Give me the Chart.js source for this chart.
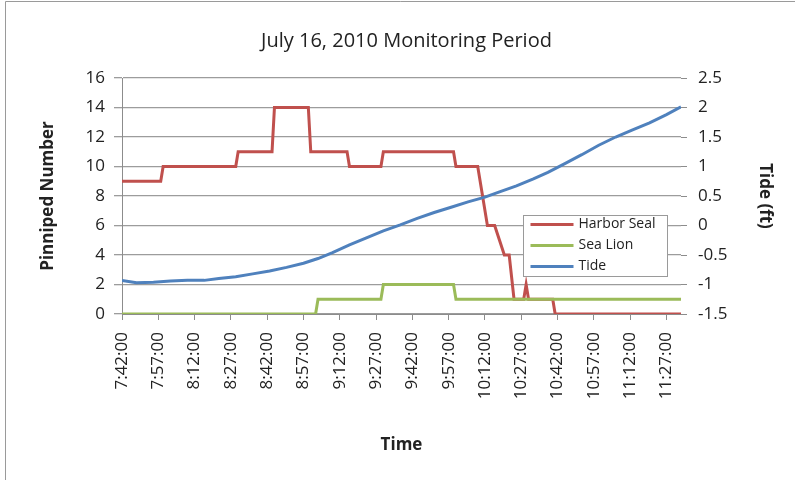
<!DOCTYPE html>
<html>
<head>
<meta charset="utf-8">
<script src="https://cdn.jsdelivr.net/npm/chart.js@4/dist/chart.umd.min.js"></script>
<style>
  html, body { margin: 0; padding: 0; background: #fff; }
</style>
</head>
<body>
<canvas id="chart" width="795" height="480"></canvas>
<script>
// minutes after 7:42:00, one tick label every 15 minutes
const tickMinutes = [0, 15, 30, 45, 60, 75, 90, 105, 120, 135, 150, 165, 180, 195, 210, 225];
const timeLabels = ["7:42:00", "7:57:00", "8:12:00", "8:27:00", "8:42:00", "8:57:00", "9:12:00", "9:27:00",
  "9:42:00", "9:57:00", "10:12:00", "10:27:00", "10:42:00", "10:57:00", "11:12:00", "11:27:00"];

// harbor seal counts (read at each change)
const sealMinutes = [0, 16, 17, 47, 48, 62, 63, 77, 78, 93, 94, 107, 108, 137, 138, 147, 149, 151, 154, 156,
  158, 160, 162, 166, 167, 168, 178, 179, 231];
const sealCounts = [9, 9, 10, 10, 11, 11, 14, 14, 11, 11, 10, 10, 11, 11, 10, 10, 8, 6, 6, 5,
  4, 4, 1, 1, 2, 1, 1, 0, 0];

// sea lion counts
const lionMinutes = [0, 80, 81, 107, 108, 137, 138, 231];
const lionCounts = [0, 0, 1, 1, 2, 2, 1, 1];

// tide height (ft)
const tideMinutes = [0, 6, 13, 20, 27, 34, 40, 47, 54, 61, 68, 75, 81, 87, 94, 101, 108, 115, 122, 129,
  136, 143, 150, 156, 163, 170, 176, 183, 190, 197, 204, 211, 218, 225, 231];
const tideFeet = [-0.93, -0.97, -0.96, -0.94, -0.93, -0.93, -0.90, -0.87, -0.82, -0.77, -0.71, -0.64, -0.56, -0.46, -0.33, -0.21, -0.09, 0.01, 0.12, 0.22,
  0.31, 0.40, 0.48, 0.57, 0.67, 0.79, 0.90, 1.05, 1.20, 1.36, 1.50, 1.62, 1.74, 1.88, 2.01];

const FONT = "'Open Sans', sans-serif";
const TEXT = "#222";
const GRID = "#9c9c9c";

function toPoints(xs, ys) {
  return xs.map((x, i) => ({ x: x, y: ys[i] }));
}

const chartBorder = {
  id: "chartBorder",
  beforeDraw(chart) {
    const ctx = chart.ctx;
    ctx.save();
    ctx.fillStyle = "#fff";
    ctx.fillRect(0, 0, chart.width, chart.height);
    ctx.strokeStyle = "#9a9a9a";
    ctx.lineWidth = 1;
    ctx.beginPath();
    ctx.moveTo(5.5, chart.height);
    ctx.lineTo(5.5, 1.5);
    ctx.lineTo(chart.width, 1.5);
    ctx.stroke();
    ctx.restore();
  }
};

const insideLegend = {
  id: "insideLegend",
  afterDraw(chart) {
    const ctx = chart.ctx;
    const left = chart.chartArea.right - 157.5;
    const top = 215.5;
    ctx.save();
    ctx.fillStyle = "#fff";
    ctx.fillRect(left, top, 144, 61);
    ctx.strokeStyle = "#9a9a9a";
    ctx.lineWidth = 1;
    ctx.strokeRect(left, top, 144, 61);
    ctx.font = "14px " + FONT;
    ctx.textBaseline = "middle";
    chart.data.datasets.forEach((ds, i) => {
      const y = top + 9 + i * 21;
      ctx.strokeStyle = ds.borderColor;
      ctx.lineWidth = 3;
      ctx.beginPath();
      ctx.moveTo(left + 7, y);
      ctx.lineTo(left + 50, y);
      ctx.stroke();
      ctx.fillStyle = TEXT;
      ctx.fillText(ds.label, left + 55, y);
    });
    ctx.restore();
  }
};

new Chart(document.getElementById("chart"), {
  type: "line",
  data: {
    datasets: [
      {
        label: "Harbor Seal",
        data: toPoints(sealMinutes, sealCounts),
        borderColor: "#c0504d",
        borderWidth: 3,
        pointRadius: 0,
        yAxisID: "y",
        order: 3,
      },
      {
        label: "Sea Lion",
        data: toPoints(lionMinutes, lionCounts),
        borderColor: "#9bbb59",
        borderWidth: 3,
        pointRadius: 0,
        yAxisID: "y",
        order: 2,
      },
      {
        label: "Tide",
        data: toPoints(tideMinutes, tideFeet),
        borderColor: "#4f81bd",
        borderWidth: 3,
        pointRadius: 0,
        yAxisID: "y1",
        order: 1,
      },
    ],
  },
  options: {
    responsive: false,
    animation: false,
    devicePixelRatio: 1,
    layout: { padding: { left: 18, right: 0, top: 0, bottom: 0 } },
    plugins: {
      legend: { display: false },
      tooltip: { enabled: false },
      title: {
        display: true,
        text: "July 16, 2010 Monitoring Period",
        color: TEXT,
        font: { family: FONT, size: 20, weight: "normal", lineHeight: 1.2 },
        padding: { top: 29, bottom: 25 },
      },
    },
    scales: {
      x: {
        type: "linear",
        min: 0,
        max: 231,
        afterBuildTicks: (scale) => {
          scale.ticks = tickMinutes.map((v) => ({ value: v }));
        },
        afterFit: (scale) => {
          scale.height = 166;
        },
        ticks: {
          autoSkip: false,
          maxRotation: 90,
          minRotation: 90,
          padding: 12,
          color: TEXT,
          font: { family: FONT, size: 17 },
          callback: (value, index) => timeLabels[index],
        },
        grid: { drawOnChartArea: false, tickLength: 6, color: "#8c8c8c" },
        border: { color: "#8c8c8c" },
        title: {
          display: true,
          text: "Time",
          color: TEXT,
          font: { family: FONT, size: 17, weight: "bold", lineHeight: 1.2 },
          padding: { top: 0, bottom: 25 },
        },
      },
      y: {
        position: "left",
        min: 0,
        max: 16,
        afterFit: (scale) => {
          scale.width = 104;
        },
        ticks: { stepSize: 2, padding: 9, color: TEXT, font: { family: FONT, size: 17 } },
        grid: { color: GRID, lineWidth: 1.3, tickLength: 8 },
        border: { color: "#8c8c8c" },
        title: {
          display: true,
          text: "Pinniped Number",
          color: TEXT,
          font: { family: FONT, size: 17, weight: "bold", lineHeight: 1.2 },
          padding: { top: 20, bottom: 0 },
        },
      },
      y1: {
        position: "right",
        min: -1.5,
        max: 2.5,
        afterFit: (scale) => {
          scale.width = 114;
        },
        ticks: {
          stepSize: 0.5,
          padding: 11,
          color: TEXT,
          font: { family: FONT, size: 17 },
          callback: (value) => String(Math.round(value * 10) / 10),
        },
        grid: { drawOnChartArea: false, tickLength: 6, color: "#8c8c8c" },
        border: { display: false },
        title: {
          display: true,
          text: "Tide (ft)",
          color: TEXT,
          font: { family: FONT, size: 17, weight: "bold", lineHeight: 1.2 },
          padding: { top: 20, bottom: 0 },
        },
      },
    },
  },
  plugins: [chartBorder, insideLegend],
});
</script>
</body>
</html>
